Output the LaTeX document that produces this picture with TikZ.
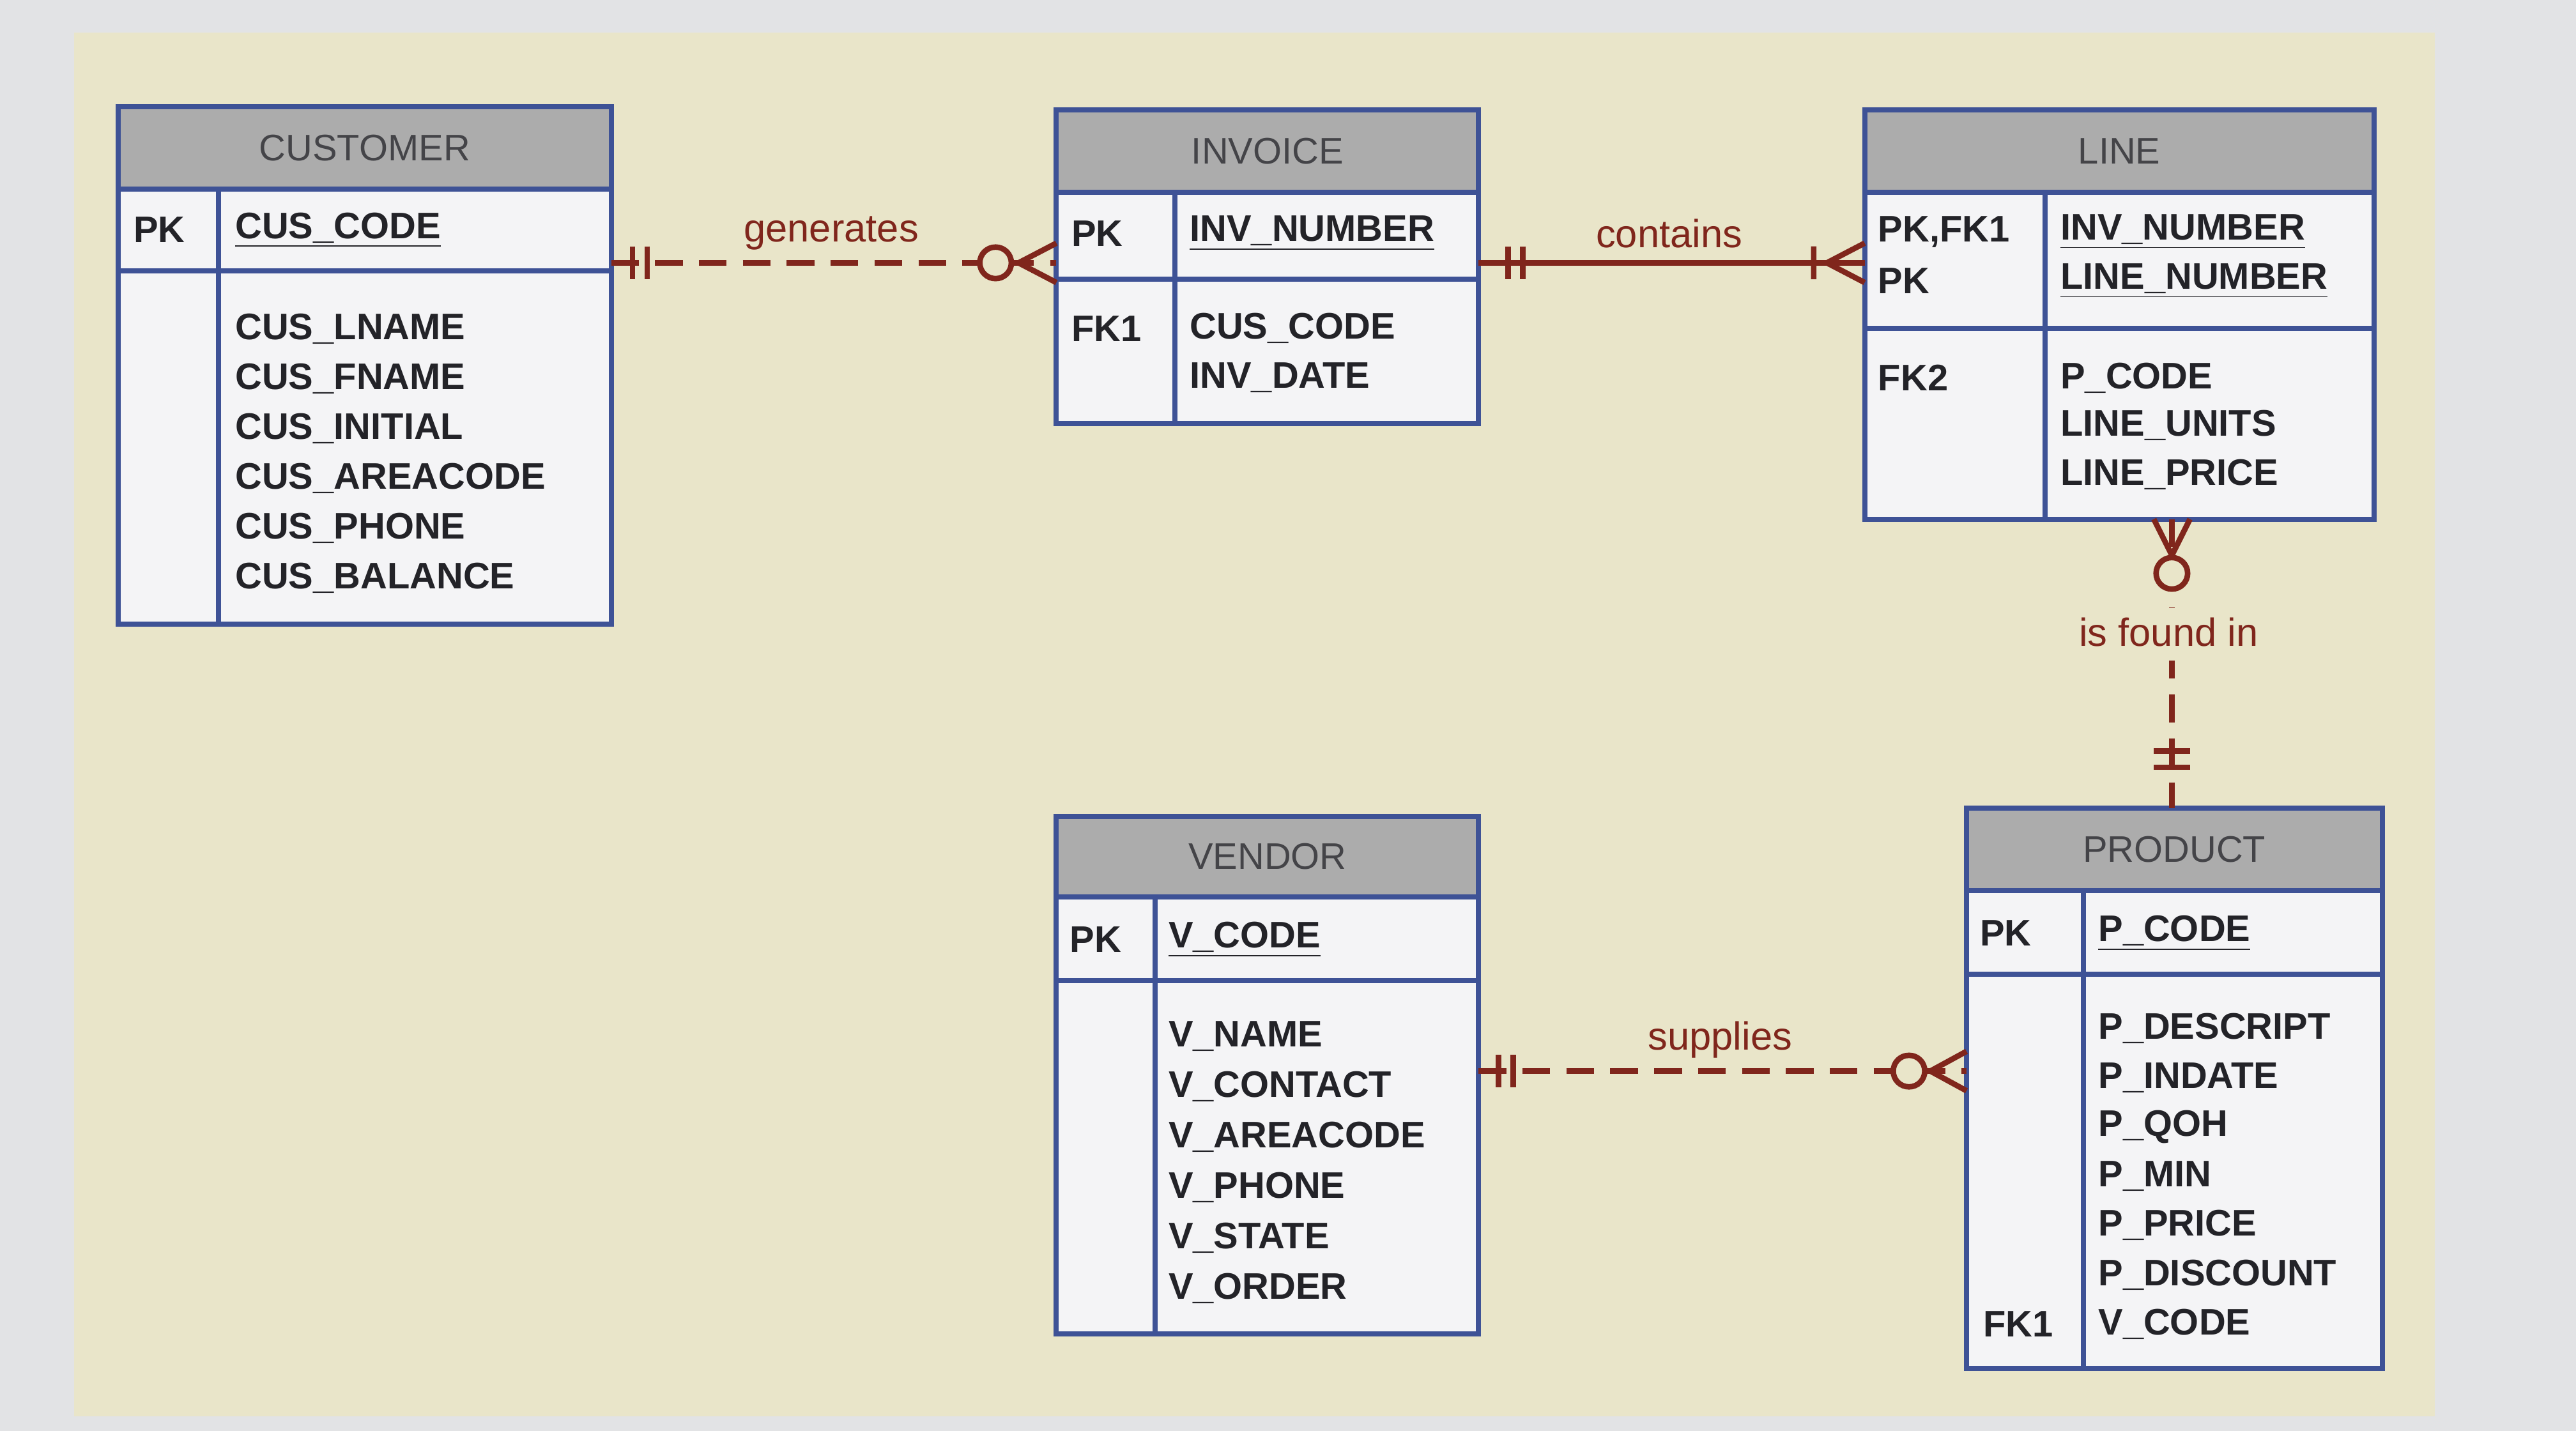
\documentclass[tikz,border=0pt]{standalone}
\usepackage{fontspec}
\setmainfont{Liberation Sans}
\begin{document}
\definecolor{bgout}{RGB}{226,227,229}
\definecolor{beige}{RGB}{233,229,201}
\definecolor{bcol}{RGB}{62,82,150}
\definecolor{hgray}{RGB}{172,172,172}
\definecolor{bodyc}{RGB}{244,244,246}
\definecolor{tcol}{RGB}{35,35,40}
\definecolor{rel}{RGB}{128,38,28}
\newcommand\ertab[9]{%
 \fill[hgray] (#2,#4) rectangle (#3,#5);
 \fill[bodyc] (#2,#5) rectangle (#3,#7);
 \draw[tb] (#2,#4) rectangle (#3,#7);
 \draw[tb] (#2,#5)--(#3,#5) (#2,#6)--(#3,#6) (#8,#5)--(#8,#7);
 \node[ttl] (#1) at ({(#2+#3)/2},{(#4+#5)/2}) {#9};}
\begin{tikzpicture}[x=0.025cm,y=-0.025cm,
 tb/.style={draw=bcol,line width=2.2pt},
 ttl/.style={font=\fontsize{16}{18}\selectfont,text=tcol!85},
 t/.style={anchor=west,inner sep=0,font=\fontsize{16}{18}\selectfont\bfseries,text=tcol},
 r/.style={draw=rel,line width=2.4pt},
 rd/.style={r,dash pattern=on 12pt off 7pt},
 lb/.style={font=\fontsize{17}{18}\selectfont,text=rel}]
\fill[bgout] (0,0) rectangle (1568,871);
\fill[beige] (45,20) rectangle (1482,862);
\useasboundingbox (0,0) rectangle (1568,871);
% tables
\ertab{customer}{72}{372}{65}{115}{165}{380}{133}{CUSTOMER}
\ertab{invoice}{643}{900}{67}{117}{170}{258}{715}{INVOICE}
\ertab{line}{1135}{1445}{67}{117}{200}{316}{1245}{LINE}
\ertab{vendor}{643}{900}{497}{546}{597}{812}{703}{VENDOR}
\ertab{product}{1197}{1450}{492}{542}{593}{833}{1268}{PRODUCT}
% customer
\node[t] (c1) at (81,140) {PK};
\node[t] (c2) at (143,140) {\underline{CUS\_CODE}};
\foreach \s [count=\i] in {CUS\_LNAME,CUS\_FNAME,CUS\_INITIAL,CUS\_AREACODE,CUS\_PHONE,CUS\_BALANCE}
 \node[t] (ca\i) at (143,{170+30.3*\i}) {\s};
% invoice
\node[t] (i1) at (652,142) {PK};
\node[t] (i2) at (724,142) {\underline{INV\_NUMBER}};
\node[t] (i3) at (652,200) {FK1};
\node[t] (i4) at (724,200) {CUS\_CODE};
\node[t] (i5) at (724,230) {INV\_DATE};
% line
\node[t] (l1) at (1143,141) {PK,FK1};
\node[t] (l2) at (1143,171) {PK};
\node[t] (l3) at (1254,141) {\underline{INV\_NUMBER}};
\node[t] (l4) at (1254,171) {\underline{LINE\_NUMBER}};
\node[t] (l5) at (1143,230) {FK2};
\node[t] (l6) at (1254,230) {P\_CODE};
\node[t] (l7) at (1254,259) {LINE\_UNITS};
\node[t] (l8) at (1254,289) {LINE\_PRICE};
% vendor
\node[t] (v1) at (651,572) {PK};
\node[t] (v2) at (711,572) {\underline{V\_CODE}};
\foreach \s [count=\i] in {V\_NAME,V\_CONTACT,V\_AREACODE,V\_PHONE,V\_STATE,V\_ORDER}
 \node[t] (va\i) at (711,{600+30.7*\i}) {\s};
% product
\node[t] (p1) at (1205,568) {PK};
\node[t] (p2) at (1277,568) {\underline{P\_CODE}};
\foreach \s [count=\i] in {P\_DESCRIPT,P\_INDATE,P\_QOH,P\_MIN,P\_PRICE,P\_DISCOUNT,V\_CODE}
 \node[t] (pa\i) at (1277,{596+30*\i}) {\s};
\node[t] (pf) at (1207,806) {FK1};
% relationships
\coordinate (g1) at (372,160); \coordinate (g2) at (643,160);
\draw[rd] (g1) -- (g2);
\draw[r] (385,150)--(385,170) (394,150)--(394,170);
\draw[r] (620,160)--(643,148) (620,160)--(643,172);
\draw[r,fill=beige] (606,160) circle[radius=0.24cm];
\node[lb] (gl) at (506,142) {generates};
\coordinate (k1) at (900,160); \coordinate (k2) at (1135,160);
\draw[r] (k1) -- (k2);
\draw[r] (918,150)--(918,170) (927,150)--(927,170);
\draw[r] (1112,160)--(1135,148) (1112,160)--(1135,172) (1104,150)--(1104,170);
\node[lb] (kl) at (1016,142) {contains};
\coordinate (f1) at (1322,316); \coordinate (f2) at (1322,492);
\draw[rd] (f1) -- (f2);
\draw[r] (1322,338)--(1311,316) (1322,338)--(1333,316);
\draw[r,fill=beige] (1322,349) circle[radius=0.24cm];
\draw[r] (1311,457)--(1333,457) (1311,467)--(1333,467);
\fill[beige] (1255,370) rectangle (1390,402);
\node[lb] (fl) at (1320,385) {is found in};
\coordinate (s1) at (900,652); \coordinate (s2) at (1197,652);
\draw[rd] (s1) -- (s2);
\draw[r] (912,642)--(912,662) (921,642)--(921,662);
\draw[r] (1175,652)--(1197,640) (1175,652)--(1197,664);
\draw[r,fill=beige] (1162,652) circle[radius=0.24cm];
\node[lb] (sl) at (1047,633) {supplies};
\end{tikzpicture}
\end{document}
